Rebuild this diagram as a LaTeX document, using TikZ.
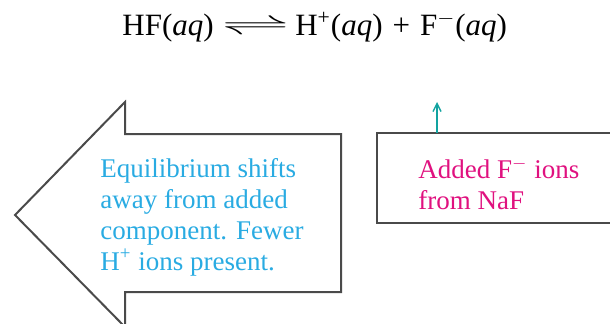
\documentclass[tikz,border=0pt]{standalone}
\usepackage{fontspec}
\setmainfont{Liberation Serif}
\newfontfamily\bookserif{Liberation Serif}
\usepackage{amsmath}
\usetikzlibrary{arrows.meta, positioning}
\definecolor{ShiftBlue}{HTML}{29ABE2}
\definecolor{AddedMagenta}{HTML}{E0117F}
\definecolor{PointTeal}{HTML}{12A3A0}
\definecolor{OutlineGray}{HTML}{4A4A4A}

\begin{document}
\begin{tikzpicture}[x=0.5pt, y=0.5pt,
    note/.style={
      inner sep=0pt, align=left, anchor=north west,
      font=\bookserif\fontsize{13.5}{15.5}\selectfont
    },
    outline/.style={draw=OutlineGray, line width=1pt, line join=miter},
    pointer/.style={-{Straight Barb[length=4pt, width=4pt]}, draw=PointTeal, line width=0.7pt}
  ]
    \useasboundingbox (0,0) rectangle (610,323);

    % big arrow pointing left, open box on the right
    \draw[outline] (125,-4) -- (15,108) -- (125,221) -- (125,189) -- (341,189)
      -- (341,31) -- (125,31) -- cycle;
    \draw[outline] (615,190) -- (377,190) -- (377,100) -- (615,100);

    \node[anchor=base west, inner sep=0pt, font=\bookserif\fontsize{15.5}{18}\selectfont] (eqn) at (122,288)
      {HF(\textit{aq})\hspace{4pt}\scalebox{2.4}[1]{$\rightleftharpoons$}\hspace{3pt}H\textsuperscript{+}(\textit{aq})\hspace{5pt}+\hspace{5pt}F\textsuperscript{$-$}(\textit{aq})};
    \node[note, text=ShiftBlue] (shift) at (100,165)
      {Equilibrium shifts\\away from added\\component. Fewer\\H\textsuperscript{+} ions present.};
    \node[note, text=AddedMagenta] (added) at (418,166) {Added F\textsuperscript{$-$} ions\\from NaF};

    \coordinate (boxtop) at (437,190);
    \coordinate (ftip) at (437,221);
    \draw[pointer] (boxtop) -- (ftip);
  \end{tikzpicture}
\end{document}
